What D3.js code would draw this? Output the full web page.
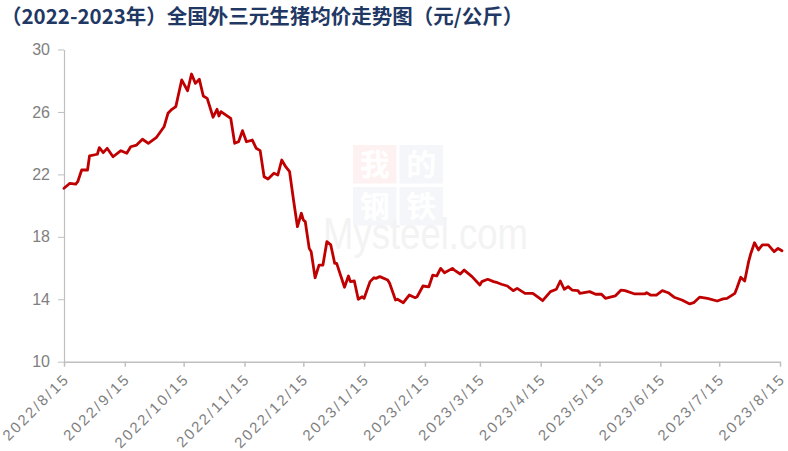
<!DOCTYPE html>
<html><head><meta charset="utf-8">
<script src="https://cdn.jsdelivr.net/npm/d3@7"></script>
<style>
html,body{margin:0;padding:0;background:#fff;}
svg{display:block;}
</style></head>
<body>
<svg id="chart" width="788" height="451"></svg>
<script>
const title = "（2022-2023年）全国外三元生猪均价走势图（元/公斤）";
const dates = ["2022-08-15","2022-08-18","2022-08-21","2022-08-22","2022-08-24","2022-08-27","2022-08-28","2022-09-01","2022-09-02","2022-09-04","2022-09-06","2022-09-09","2022-09-13","2022-09-16","2022-09-18","2022-09-21","2022-09-24","2022-09-27","2022-10-01","2022-10-05","2022-10-07","2022-10-09","2022-10-11","2022-10-14","2022-10-17","2022-10-19","2022-10-21","2022-10-23","2022-10-25","2022-10-27","2022-10-30","2022-11-01","2022-11-02","2022-11-03","2022-11-08","2022-11-10","2022-11-12","2022-11-14","2022-11-16","2022-11-19","2022-11-21","2022-11-23","2022-11-25","2022-11-27","2022-11-30","2022-12-02","2022-12-04","2022-12-06","2022-12-08","2022-12-10","2022-12-12","2022-12-14","2022-12-15","2022-12-16","2022-12-18","2022-12-19","2022-12-21","2022-12-23","2022-12-25","2022-12-27","2022-12-29","2022-12-31","2023-01-01","2023-01-05","2023-01-07","2023-01-08","2023-01-10","2023-01-12","2023-01-14","2023-01-15","2023-01-18","2023-01-20","2023-01-21","2023-01-23","2023-01-27","2023-01-28","2023-01-31","2023-02-01","2023-02-04","2023-02-07","2023-02-10","2023-02-11","2023-02-14","2023-02-17","2023-02-19","2023-02-21","2023-02-23","2023-02-25","2023-03-01","2023-03-02","2023-03-05","2023-03-07","2023-03-11","2023-03-15","2023-03-16","2023-03-19","2023-03-22","2023-03-24","2023-03-26","2023-03-29","2023-04-01","2023-04-03","2023-04-07","2023-04-11","2023-04-14","2023-04-16","2023-04-20","2023-04-23","2023-04-25","2023-04-27","2023-04-29","2023-05-01","2023-05-04","2023-05-05","2023-05-10","2023-05-13","2023-05-16","2023-05-18","2023-05-23","2023-05-26","2023-05-28","2023-06-02","2023-06-07","2023-06-08","2023-06-10","2023-06-13","2023-06-16","2023-06-19","2023-06-22","2023-06-26","2023-06-30","2023-07-02","2023-07-05","2023-07-09","2023-07-14","2023-07-17","2023-07-19","2023-07-23","2023-07-24","2023-07-26","2023-07-28","2023-07-30","2023-07-31","2023-08-02","2023-08-04","2023-08-06","2023-08-09","2023-08-12","2023-08-14","2023-08-16"];
const prices = [21.11,21.43,21.38,21.53,22.28,22.28,23.18,23.29,23.71,23.39,23.67,23.13,23.52,23.35,23.77,23.88,24.25,23.99,24.35,25.05,25.91,26.17,26.34,28.05,27.36,28.43,27.83,28.09,27.02,26.87,25.66,26.17,25.74,26.02,25.59,23.99,24.09,24.80,24.09,24.20,23.67,23.52,21.85,21.70,22.07,21.96,22.92,22.49,22.17,20.36,18.65,19.51,19.08,18.97,17.26,17.05,15.38,16.19,16.19,17.69,17.48,16.30,16.30,14.77,15.49,15.13,15.17,14.00,14.16,14.06,15.13,15.38,15.34,15.45,15.23,15.02,13.95,14.00,13.78,14.27,14.10,14.16,14.85,14.80,15.55,15.49,15.98,15.70,15.98,15.87,15.62,15.87,15.45,14.91,15.13,15.28,15.13,15.06,14.96,14.85,14.55,14.70,14.38,14.38,14.10,13.91,14.49,14.64,15.17,14.64,14.81,14.59,14.55,14.38,14.49,14.32,14.32,14.06,14.21,14.59,14.55,14.34,14.34,14.42,14.27,14.27,14.55,14.42,14.13,13.95,13.70,13.78,14.13,14.06,13.89,14.02,14.06,14.38,14.70,15.41,15.17,16.41,16.88,17.62,17.16,17.48,17.48,17.05,17.26,17.11];
const xTicks = ["2022-08-15","2022-09-15","2022-10-15","2022-11-15","2022-12-15","2023-01-15","2023-02-15","2023-03-15","2023-04-15","2023-05-15","2023-06-15","2023-07-15","2023-08-15"];
const yTicks = [10,14,18,22,26,30];

const parse = d3.timeParse("%Y-%m-%d");
const data = dates.map((d,i)=>({date:parse(d), v:prices[i]}));
const svg = d3.select("#chart");

const x = d3.scaleTime().domain([parse("2022-08-15"), parse("2023-08-15")]).range([64, 780]);
const y = d3.scaleLinear().domain([10,30]).range([361.7, 49.5]);

// watermark (very faint)
const wm = svg.append("g").attr("class","watermark");
const sq = [[353,145,"#fef1f1","我"],[399.5,145,"#f5f6fa","的"],[353,187,"#f5f6fa","钢"],[399.5,187,"#f5f6fa","铁"]];
sq.forEach(s=>{
  wm.append("rect").attr("x",s[0]).attr("y",s[1]).attr("width",43.5).attr("height",38.5).attr("fill",s[2]);
  wm.append("text").attr("x",s[0]+21.75).attr("y",s[1]+30).attr("text-anchor","middle")
    .attr("font-family","'Noto Sans CJK SC'").attr("font-weight","bold").attr("font-size",30).attr("fill","#ffffff").text(s[3]);
});
wm.append("text").attr("x",323).attr("y",249).attr("textLength",205).attr("lengthAdjust","spacingAndGlyphs")
  .attr("font-family","'Liberation Sans',Arial,sans-serif").attr("font-size",44).attr("fill","#f3f3f3").text("Mysteel.com");

// title
svg.append("text").attr("x",1).attr("y",24).attr("font-family","'Noto Sans CJK SC',sans-serif")
  .attr("font-weight","bold").attr("font-size",20.5).attr("fill","#1f3864").text(title);

// axes
const yAxis = svg.append("g").attr("transform","translate(64,0)")
  .call(d3.axisLeft(y).tickValues(yTicks).tickSize(6).tickSizeOuter(0).tickPadding(8).tickFormat(d3.format("d")));
yAxis.selectAll("path,line").attr("stroke","#bfbfbf");
yAxis.selectAll("text").attr("font-family","'Liberation Sans',Arial,sans-serif").attr("font-size",16).attr("fill","#808080");
yAxis.select(".domain").attr("stroke-width",1.2);

const xAxis = svg.append("g").attr("transform","translate(0,361.7)")
  .call(d3.axisBottom(x).tickValues(xTicks.map(parse)).tickSize(5).tickSizeOuter(0).tickFormat(d3.timeFormat("%Y/%-m/%-d")));
xAxis.selectAll("path,line").attr("stroke","#bfbfbf").attr("stroke-width",1.5);
xAxis.selectAll("text")
  .attr("font-family","'Liberation Sans',Arial,sans-serif").attr("font-size",15).attr("letter-spacing","2.3px").attr("fill","#808080")
  .attr("text-anchor","end").attr("dy",null).attr("y",null)
  .attr("transform","translate(6,18) rotate(-45)");

// line
svg.append("path").datum(data).attr("fill","none").attr("stroke","#c00000").attr("stroke-width",2.8)
  .attr("stroke-linejoin","round").attr("stroke-linecap","round")
  .attr("d", d3.line().x(d=>x(d.date)).y(d=>y(d.v)));
</script>
</body></html>
